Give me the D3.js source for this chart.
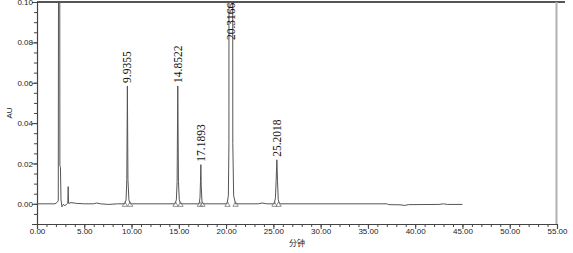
<!DOCTYPE html>
<html>

<head>
  <meta charset="utf-8">
  <title>色谱图</title>
  <script src="https://cdn.jsdelivr.net/npm/d3@7"></script>
  <style>
    body { margin: 0; background: #fff; }
    svg { display: block; }
  </style>
</head>

<body>
  <script>
    // 色谱数据 (分钟, AU) - 从图上读取
    const trace = [
      [0.0, 0.0], [1.9, 0.0], [2.1, 0.0006], [2.25, 0.0015], [2.32, 0.3], [2.38, 0.3],
      [2.42, 0.019], [2.48, 0.018], [2.54, 0.002], [2.64, -0.0015], [2.8, -0.0002],
      [2.95, -0.001], [3.15, 0.0], [3.26, 0.0004], [3.3, 0.0085], [3.34, 0.0002],
      [3.6, 0.0006], [4.2, 0.0002], [5.0, 0.0], [6.0, 0.0], [6.3, 0.0004], [6.7, 0.0],
      [7.6, -0.0003], [8.5, 0.0], [9.3, 0.0], [9.42, 0.002], [9.5, 0.012],
      [9.56, 0.0584], [9.62, 0.012], [9.72, 0.002], [9.85, 0.0],
      [14.6, 0.0], [14.74, 0.002], [14.82, 0.011], [14.89, 0.0584], [14.96, 0.011],
      [15.05, 0.002], [15.2, 0.0],
      [17.15, 0.0], [17.24, 0.003], [17.29, 0.011], [17.33, 0.0194], [17.37, 0.009],
      [17.45, 0.001], [17.55, 0.0],
      [20.1, 0.0], [20.24, 0.004], [20.3, 0.03], [20.32, 0.3], [20.68, 0.3],
      [20.71, 0.03], [20.8, 0.004], [21.0, 0.0],
      [23.4, 0.0], [23.8, 0.0004], [24.3, 0.0], [25.1, 0.0], [25.22, 0.003],
      [25.3, 0.012], [25.37, 0.0218], [25.44, 0.011], [25.52, 0.002], [25.65, 0.0],
      [37.0, 0.0], [37.2, -0.0004], [38.4, -0.0005], [38.9, -0.0008], [39.3, -0.0004],
      [42.5, -0.0003], [43.0, 0.0], [43.4, -0.0003], [45.0, -0.0003]
    ];

    // 峰标注
    const peakLabels = ["9.9355", "14.8522", "17.1893", "20.3166", "25.2018"];
    const peakTimes = [9.56, 14.89, 17.33, 20.5, 25.37];
    const peakHeights = [0.0584, 0.0584, 0.0194, 0.1, 0.0218];

    // 积分起止点 (三角标记)
    const markTimes = [9.3, 9.85, 14.65, 15.18, 17.22, 17.5, 20.15, 21.0, 25.12, 25.55];

    // 坐标轴刻度
    const xTicks = [0, 5, 10, 15, 20, 25, 30, 35, 40, 45, 50, 55];
    const yTicks = [0.0, 0.02, 0.04, 0.06, 0.08, 0.10];

    const w = 573;
    const h = 253;

    const x = d3.scaleLinear().domain([0, 55]).range([37, 557]);
    const y = d3.scaleLinear().domain([-0.01, 0.10]).range([224, 2]);

    const svg = d3.select("body").append("svg")
      .attr("width", w)
      .attr("height", h);

    svg.append("defs").append("clipPath").attr("id", "plotClip")
      .append("rect")
      .attr("x", 37).attr("y", 2)
      .attr("width", 520).attr("height", 222);

    // 上边框和右边框
    svg.append("line")
      .attr("x1", 37).attr("x2", 565)
      .attr("y1", 2).attr("y2", 2)
      .attr("stroke", "#555").attr("stroke-width", 2);
    svg.append("line")
      .attr("x1", 556.5).attr("x2", 556.5)
      .attr("y1", 2).attr("y2", 224)
      .attr("stroke", "#b0b0b0").attr("stroke-width", 2);

    // X 轴
    const xAxis = svg.append("g")
      .attr("transform", "translate(0,224)")
      .call(d3.axisBottom(x).tickValues(xTicks).tickSize(5).tickFormat(d3.format(".2f")));
    svg.append("g")
      .attr("transform", "translate(0,224)")
      .call(d3.axisBottom(x).tickValues(d3.range(0, 56, 1)).tickSize(3).tickFormat(""))
      .select(".domain").remove();

    // Y 轴
    const yAxis = svg.append("g")
      .attr("transform", "translate(37,0)")
      .call(d3.axisLeft(y).tickValues(yTicks).tickSize(5).tickFormat(d3.format(".2f")));
    svg.append("g")
      .attr("transform", "translate(37,0)")
      .call(d3.axisLeft(y).tickValues(d3.range(-0.01, 0.1001, 0.005)).tickSize(3).tickFormat(""))
      .select(".domain").remove();

    svg.selectAll(".domain").attr("stroke", "#444").attr("stroke-width", 1.2);
    svg.selectAll(".tick line").attr("stroke", "#444");
    svg.selectAll(".tick text")
      .attr("font-family", "Liberation Sans, Arial, sans-serif")
      .attr("font-size", "8px")
      .attr("fill", "#222");
    xAxis.selectAll(".tick text").attr("y", 4);
    yAxis.selectAll(".tick text").attr("x", -4);

    // 轴标题
    svg.append("text")
      .attr("transform", "translate(12,113) rotate(-90)")
      .attr("text-anchor", "middle")
      .attr("font-family", "Liberation Sans, Arial, sans-serif")
      .attr("font-size", "8px")
      .attr("fill", "#222")
      .text("AU");
    svg.append("text")
      .attr("x", 297).attr("y", 246)
      .attr("text-anchor", "middle")
      .attr("font-family", "Noto Sans CJK SC, sans-serif")
      .attr("font-size", "8px")
      .attr("fill", "#222")
      .text("分钟");

    // 色谱曲线
    const line = d3.line()
      .x(function (d) { return x(d[0]); })
      .y(function (d) { return y(d[1]); });

    svg.append("path")
      .datum(trace)
      .attr("clip-path", "url(#plotClip)")
      .attr("d", line)
      .attr("fill", "none")
      .attr("stroke", "#555")
      .attr("stroke-width", 1);

    // 三角标记
    svg.selectAll("path.mark")
      .data(markTimes)
      .enter()
      .append("path")
      .attr("class", "mark")
      .attr("d", d3.symbol().type(d3.symbolTriangle).size(12))
      .attr("transform", function (d) { return "translate(" + x(d) + "," + (y(0) + 1) + ")"; })
      .attr("fill", "none")
      .attr("stroke", "#777")
      .attr("stroke-width", 0.8);

    // 峰标注
    svg.selectAll("text.peak")
      .data(peakLabels)
      .enter()
      .append("text")
      .attr("class", "peak")
      .attr("transform", function (d, i) {
        const top = peakHeights[i] >= 0.1 ? 40 : y(peakHeights[i]) - 3;
        return "translate(" + (x(peakTimes[i]) + 4) + "," + top + ") rotate(-90)";
      })
      .attr("font-family", "Liberation Serif, Times New Roman, serif")
      .attr("font-size", "11.5px")
      .attr("fill", "#111")
      .text(function (d) { return d; });
  </script>
</body>

</html>
